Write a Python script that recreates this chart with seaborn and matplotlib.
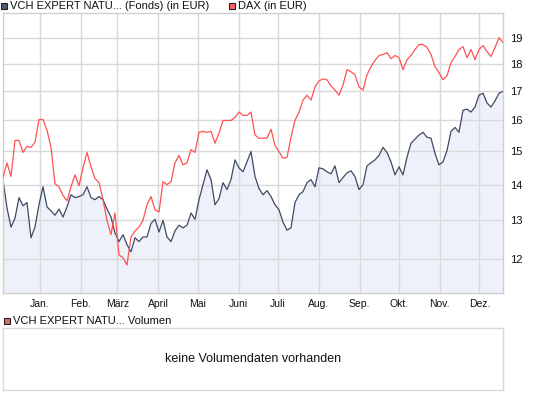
import numpy as np
import pandas as pd
import matplotlib
matplotlib.use("Agg")
import matplotlib.pyplot as plt
from matplotlib.patches import Rectangle
from matplotlib.ticker import FixedLocator, NullLocator, FixedFormatter
import seaborn as sns

# values (fund and DAX, both in EUR, scaled)
fund_values = [
    14.15, 13.34, 12.82, 13.06, 13.63, 13.40, 13.49, 12.54, 12.82, 13.43,
    13.94, 13.37, 13.26, 13.14, 13.31, 13.09, 13.37, 13.71, 13.63, 13.66,
    13.71, 13.94, 13.63, 13.57, 13.66, 13.57, 13.31, 13.09, 12.67, 12.44,
    12.62, 12.36, 12.18, 12.54, 12.44, 12.56, 12.56, 12.92, 13.03, 12.69,
    13.00, 12.56, 12.44, 12.72, 12.87, 12.80, 12.87, 13.20, 13.03, 13.57,
    14.00, 14.44, 14.15, 13.43, 13.60, 14.06, 13.86, 14.15, 14.74, 14.50,
    14.38, 14.68, 15.00, 14.24, 13.89, 13.71, 13.83, 13.66, 13.43, 13.29,
    12.95, 12.74, 12.80, 13.49, 13.71, 13.80, 14.06, 14.15, 13.94, 14.50,
    14.47, 14.38, 14.32, 14.56, 14.06, 14.21, 14.35, 14.41, 14.24, 13.86,
    14.00, 14.56, 14.65, 14.74, 14.88, 15.13, 14.97, 14.68, 14.29, 14.53,
    14.29, 14.82, 15.26, 15.39, 15.52, 15.61, 15.45, 15.42, 14.94, 14.59,
    14.68, 15.03, 15.64, 15.77, 15.61, 16.34, 16.38, 16.28, 16.45, 16.86,
    16.93, 16.59, 16.45, 16.66, 16.93, 17.00,
]
dax_values = [
    14.21, 14.65, 14.24, 15.35, 15.35, 14.97, 15.16, 15.13, 15.29, 16.03,
    16.03, 15.68, 15.13, 14.03, 13.94, 13.69, 13.54, 13.94, 14.29, 13.97,
    14.50, 14.97, 14.53, 14.18, 14.06, 13.57, 13.00, 12.62, 13.20, 12.10,
    12.03, 11.85, 12.56, 12.72, 12.82, 13.00, 13.43, 13.66, 13.29, 13.23,
    14.09, 14.00, 14.09, 14.65, 14.88, 14.59, 14.65, 15.06, 14.97, 15.61,
    15.64, 15.61, 15.64, 15.26, 15.58, 16.00, 16.00, 16.00, 16.10, 16.28,
    16.17, 16.17, 16.28, 15.52, 15.42, 15.42, 15.42, 15.71, 15.19, 15.00,
    14.79, 14.82, 15.45, 16.00, 16.28, 16.69, 16.86, 16.69, 17.15, 17.37,
    17.44, 17.41, 17.19, 17.04, 16.86, 17.22, 17.78, 17.70, 17.59, 17.15,
    17.04, 17.59, 17.89, 18.12, 18.31, 18.35, 18.42, 18.19, 18.31, 18.23,
    17.78, 18.15, 18.31, 18.54, 18.73, 18.73, 18.62, 18.35, 17.89, 17.67,
    17.41, 17.56, 18.04, 18.27, 18.54, 18.65, 18.23, 18.54, 18.15, 18.54,
    18.69, 18.46, 18.27, 18.62, 19.00, 18.81,
]
month_labels = ["Jan.", "Feb.", "März", "April", "Mai", "Juni", "Juli",
                "Aug.", "Sep.", "Okt.", "Nov.", "Dez."]
y_ticks = [12, 13, 14, 15, 16, 17, 18, 19]
y_range = (11.18, 20.0)
fund_name = "VCH EXPERT NATU... (Fonds) (in EUR)"
dax_name = "DAX (in EUR)"
volume_name = "VCH EXPERT NATU... Volumen"
no_volume_text = "keine Volumendaten vorhanden"

FUND_COLOR = "#3d4a66"
DAX_COLOR = "#ff5252"
FILL_COLOR = "#eef1fa"
GRID_COLOR = "#d9d9d9"

dates = pd.date_range("2002-12-04", "2003-12-19", periods=len(fund_values))
month_starts = pd.date_range("2003-01-01", "2003-12-01", freq="MS")
df = pd.DataFrame({"date": dates, "fund": fund_values, "dax": dax_values})

sns.set_style("white")
plt.rcParams["font.family"] = ["Liberation Sans", "DejaVu Sans"]

W, H = 545, 395
fig = plt.figure(figsize=(W / 100, H / 100), dpi=100)

#main price panel
ax = fig.add_axes([3 / W, 1 - 293 / H, 500 / W, 280 / H])
ax.fill_between(df["date"], df["fund"], y_range[0], color=FILL_COLOR,
                linewidth=0, zorder=0.2)
sns.lineplot(data=df, x="date", y="fund", ax=ax, color=FUND_COLOR,
             linewidth=0.9, zorder=2)
sns.lineplot(data=df, x="date", y="dax", ax=ax, color=DAX_COLOR,
             linewidth=0.9, zorder=3)

ax.set_yscale("log")
ax.set_ylim(*y_range)
ax.set_xlim(dates[0], dates[-1])
ax.yaxis.set_major_locator(FixedLocator(y_ticks))
ax.yaxis.set_major_formatter(FixedFormatter([str(t) for t in y_ticks]))
ax.yaxis.set_minor_locator(NullLocator())
ax.yaxis.tick_right()
ax.set_xticks(month_starts)
ax.set_xticklabels(month_labels)
ax.set_xlabel("")
ax.set_ylabel("")
ax.set_axisbelow(True)
ax.grid(True, color=GRID_COLOR, linewidth=1.0)
ax.tick_params(axis="x", length=2.5, width=1, color=GRID_COLOR,
               labelsize=7.5, pad=1.5, labelcolor="#111")
ax.tick_params(axis="y", length=0, labelsize=8, pad=5, labelcolor="#111")
for sp in ax.spines.values():
    sp.set_color("#cfcfcf")
    sp.set_linewidth(1.0)

#volume panel (empty)
ax2 = fig.add_axes([3 / W, 1 - 390 / H, 500 / W, 62 / H])
ax2.set_xticks([])
ax2.set_yticks([])
for sp in ax2.spines.values():
    sp.set_color(GRID_COLOR)
    sp.set_linewidth(1.0)
ax2.text(0.5, 0.5, no_volume_text, transform=ax2.transAxes,
         ha="center", va="center", fontsize=9, color="#111")

#legend squares and labels
def legend_item(x_px, y_px, color, label):
    fig.add_artist(Rectangle((x_px / W, 1 - (y_px + 3) / H), 6 / W, 6 / H,
                             transform=fig.transFigure, facecolor=color,
                             edgecolor="#222", linewidth=0.8))
    fig.text((x_px + 9) / W, 1 - y_px / H, label, ha="left", va="center",
             fontsize=8, color="#111")

legend_item(1, 6, "#4e5a78", fund_name)
legend_item(229, 6, "#ff5f5f", dax_name)
legend_item(4, 321, "#d96c6c", volume_name)

fig.savefig("out.png", dpi=100)
